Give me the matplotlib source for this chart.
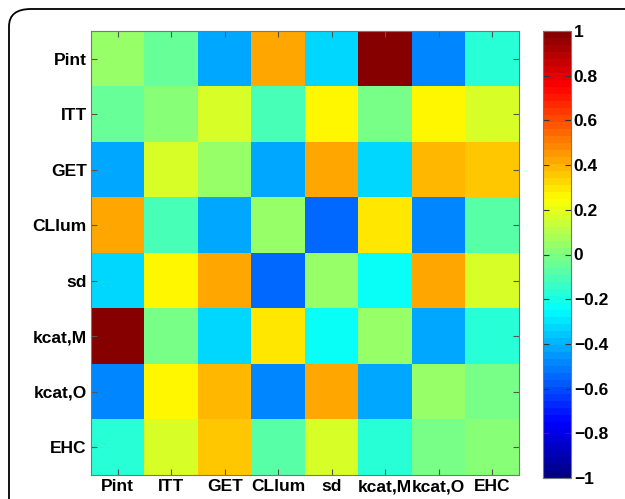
import numpy as np
import matplotlib
matplotlib.use('Agg')
import matplotlib.pyplot as plt
from matplotlib.colors import ListedColormap
from matplotlib.patches import FancyBboxPatch

# labels and correlation values
labels = ['Pint', 'ITT', 'GET', 'CLlum', 'sd', 'kcat,M', 'kcat,O', 'EHC']
row_pint = [0.04, -0.05, -0.41, 0.43, -0.34, 1.00, -0.50, -0.16]
row_itt = [-0.05, 0.03, 0.17, -0.12, 0.26, -0.01, 0.25, 0.18]
row_get = [-0.41, 0.17, 0.04, -0.42, 0.42, -0.32, 0.38, 0.36]
row_cllum = [0.43, -0.12, -0.42, 0.04, -0.55, 0.29, -0.50, -0.08]
row_sd = [-0.34, 0.26, 0.42, -0.55, 0.04, -0.25, 0.43, 0.18]
row_kcatm = [1.00, -0.01, -0.32, 0.29, -0.25, 0.04, -0.41, -0.18]
row_kcato = [-0.50, 0.25, 0.38, -0.50, 0.43, -0.41, 0.04, -0.03]
row_ehc = [-0.16, 0.18, 0.36, -0.08, 0.18, -0.18, -0.03, 0.03]

corr = np.array([row_pint, row_itt, row_get, row_cllum,
                 row_sd, row_kcatm, row_kcato, row_ehc])

# MATLAB style jet with 64 levels
t = (np.arange(64) + 0.5) / 64
r = np.clip(1.5 - np.abs(4 * t - 3), 0, 1)
g = np.clip(1.5 - np.abs(4 * t - 2), 0, 1)
b = np.clip(1.5 - np.abs(4 * t - 1), 0, 1)
cmap = ListedColormap(np.column_stack([r, g, b]))

plt.rcParams['font.family'] = ['Liberation Sans', 'DejaVu Sans']
plt.rcParams['font.weight'] = 'bold'

fig = plt.figure(figsize=(6.25, 4.99), dpi=100)

# rounded frame around the figure
frame = FancyBboxPatch((9 / 625, -0.2), 1.2, 1.2 - 9 / 499,
                       boxstyle='round,pad=0,rounding_size=0.035',
                       transform=fig.transFigure, fill=False,
                       edgecolor='black', linewidth=1.3)
fig.patches.append(frame)

ax = fig.add_axes([91 / 625, 1 - 475 / 499, 428 / 625, 444 / 499])
im = ax.imshow(corr, cmap=cmap, vmin=-1, vmax=1, aspect='auto',
               interpolation='nearest')

ax.set_xticks(range(len(labels)))
ax.set_xticklabels(labels, fontsize=12.5, fontweight='bold')
ax.set_yticks(range(len(labels)))
ax.set_yticklabels(labels, fontsize=12.5, fontweight='bold')
ax.tick_params(direction='in', top=True, right=True, length=4,
               color='#555555', pad=3)
for s in ax.spines.values():
    s.set_color('#777777')

cax = fig.add_axes([543 / 625, 1 - 478 / 499, 28 / 625, 447 / 499])
cb = fig.colorbar(im, cax=cax)
cb.set_ticks(np.arange(-1, 1.01, 0.2))
cb.set_ticklabels(['\u22121', '\u22120.8', '\u22120.6', '\u22120.4', '\u22120.2',
                   '0', '0.2', '0.4', '0.6', '0.8', '1'])
cax.tick_params(direction='in', left=True, right=True, length=4,
                color='#333333', labelsize=12.5, pad=2)
for t in cax.get_yticklabels():
    t.set_fontweight('bold')
cb.outline.set_edgecolor('#777777')

fig.savefig('out.png', dpi=100)
